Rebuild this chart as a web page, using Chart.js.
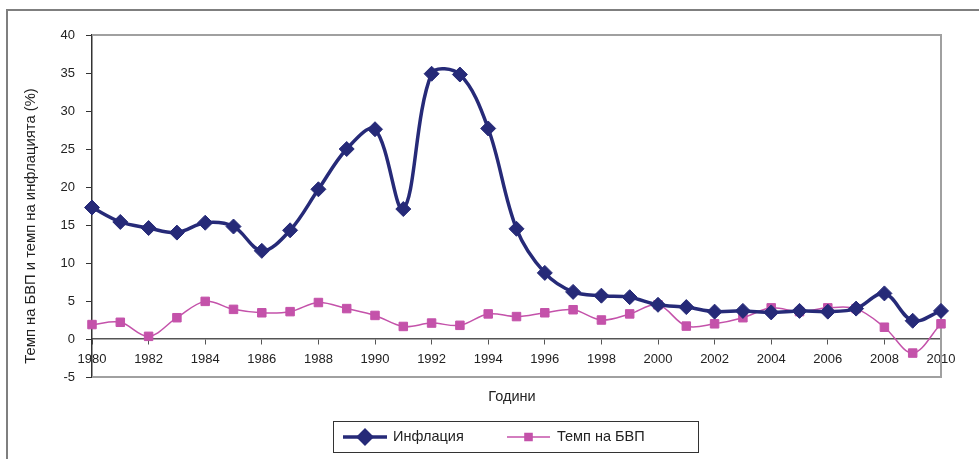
<!DOCTYPE html>
<html>
<head>
<meta charset="utf-8">
<script src="https://cdn.jsdelivr.net/npm/chart.js@4.4.1/dist/chart.umd.min.js"></script>
<style>
  html, body { margin: 0; padding: 0; background: #fff; }
  #wrap { width: 979px; height: 459px; }
</style>
</head>
<body>
<div id="wrap"><canvas id="chart" width="979" height="459"></canvas></div>
<script>
// --- Data ---
const years = [1980, 1981, 1982, 1983, 1984, 1985, 1986, 1987, 1988, 1989,
    1990, 1991, 1992, 1993, 1994, 1995, 1996, 1997, 1998, 1999,
    2000, 2001, 2002, 2003, 2004, 2005, 2006, 2007, 2008, 2009, 2010];
const inflation = [17.3, 15.4, 14.6, 14.0, 15.3, 14.8, 11.6, 14.3, 19.7, 25.0,
    27.6, 17.1, 34.9, 34.8, 27.7, 14.5, 8.7, 6.2, 5.7, 5.5,
    4.5, 4.2, 3.6, 3.7, 3.5, 3.7, 3.6, 4.0, 6.0, 2.4, 3.7];
const gdpGrowth = [1.9, 2.2, 0.35, 2.8, 4.95, 3.9, 3.45, 3.6, 4.8, 4.0,
    3.1, 1.65, 2.1, 1.8, 3.3, 2.95, 3.45, 3.85, 2.5, 3.3,
    4.5, 1.7, 2.0, 2.8, 4.1, 3.6, 4.1, 4.0, 1.55, -1.85, 2.0];
const seriesNames = ['Инфлация', 'Темп на БВП'];
const yTitle = 'Темп на БВП и темп на инфлацията (%)';
const xTitle = 'Години';

const FONT = '"Liberation Sans", Arial, sans-serif';
const NAVY = '#262a78';
const PINK = '#c452aa';

const toPoints = (vals) => years.map((x, i) => ({ x, y: vals[i] }));

// frame, axis titles and boxed legend (Excel look)
const decorPlugin = {
    id: 'decor',
    beforeDatasetsDraw(chart) {
        const { ctx, chartArea: a } = chart;
        ctx.save();
        // outer chart border (left + top only visible)
        ctx.strokeStyle = '#7f7f7f';
        ctx.lineWidth = 2;
        ctx.beginPath();
        ctx.moveTo(7, 459);
        ctx.lineTo(7, 10);
        ctx.lineTo(979, 10);
        ctx.stroke();
        // plot area border
        ctx.strokeStyle = '#a0a0a0';
        ctx.lineWidth = 2;
        ctx.beginPath();
        ctx.moveTo(a.left, a.top);
        ctx.lineTo(a.right, a.top);
        ctx.lineTo(a.right, a.bottom);
        ctx.lineTo(a.left, a.bottom);
        ctx.stroke();
        ctx.restore();
    },
    afterDraw(chart) {
        const { ctx } = chart;
        ctx.save();
        ctx.fillStyle = '#222';
        ctx.textAlign = 'center';
        ctx.textBaseline = 'middle';
        // y title
        ctx.font = '14.8px ' + FONT;
        ctx.save();
        ctx.translate(31, 226);
        ctx.rotate(-Math.PI / 2);
        ctx.fillText(yTitle, 0, 0);
        ctx.restore();
        // x title
        ctx.font = '14.5px ' + FONT;
        ctx.fillText(xTitle, 512, 397);

        // legend box
        ctx.strokeStyle = '#333';
        ctx.lineWidth = 1;
        ctx.strokeRect(333.5, 421.5, 365, 31);
        const items = [
            { x0: 343, x1: 387, tx: 393, r: 6.5, ds: chart.data.datasets[0] },
            { x0: 507, x1: 550, tx: 557, r: 5, ds: chart.data.datasets[1] }
        ];
        const ly = 437;
        items.forEach(it => {
            ctx.strokeStyle = it.ds.borderColor;
            ctx.lineWidth = it.ds.borderWidth;
            ctx.beginPath();
            ctx.moveTo(it.x0, ly);
            ctx.lineTo(it.x1, ly);
            ctx.stroke();
            Chart.helpers.drawPoint(ctx, {
                pointStyle: it.ds.pointStyle,
                radius: it.r,
                borderWidth: 1
            }, (it.x0 + it.x1) / 2, ly);
            ctx.fillStyle = it.ds.pointBackgroundColor;
            ctx.fill();
            ctx.fillStyle = '#222';
            ctx.textAlign = 'left';
            ctx.font = '14.5px ' + FONT;
            ctx.fillText(it.ds.label, it.tx, ly);
        });
        ctx.restore();
    }
};

new Chart(document.getElementById('chart'), {
    type: 'line',
    data: {
        datasets: [{
            label: seriesNames[0],
            data: toPoints(inflation),
            borderColor: NAVY,
            backgroundColor: NAVY,
            borderWidth: 3.5,
            pointStyle: 'rectRot',
            pointRadius: 7.5,
            pointBackgroundColor: NAVY,
            pointBorderColor: NAVY,
            pointBorderWidth: 1,
            tension: 0.35,
            clip: false,
            order: 1
        }, {
            label: seriesNames[1],
            data: toPoints(gdpGrowth),
            borderColor: PINK,
            backgroundColor: PINK,
            borderWidth: 1.5,
            pointStyle: 'rect',
            pointRadius: 6,
            pointBackgroundColor: PINK,
            pointBorderColor: PINK,
            pointBorderWidth: 1,
            tension: 0.35,
            clip: false,
            order: 2
        }]
    },
    options: {
        responsive: false,
        animation: false,
        layout: { padding: { left: 0, top: 35, right: 38, bottom: 82 } },
        plugins: { legend: { display: false }, tooltip: { enabled: false } },
        scales: {
            x: {
                type: 'linear',
                position: { y: 0 },
                min: 1980,
                max: 2010,
                ticks: {
                    stepSize: 2,
                    autoSkip: false,
                    maxRotation: 0,
                    padding: 8,
                    color: '#222',
                    font: { family: FONT, size: 13 },
                    callback: (v) => String(v)
                },
                grid: { drawOnChartArea: false, tickLength: 5, color: '#555' },
                border: { color: '#555', width: 1.5 }
            },
            y: {
                min: -5,
                max: 40,
                ticks: {
                    stepSize: 5,
                    padding: 11,
                    color: '#222',
                    font: { family: FONT, size: 13 }
                },
                grid: { drawOnChartArea: false, tickLength: 6, color: '#333' },
                border: { color: '#333', width: 1.5 },
                afterFit: (scale) => { scale.width = 92; }
            }
        }
    },
    plugins: [decorPlugin]
});
</script>
</body>
</html>
